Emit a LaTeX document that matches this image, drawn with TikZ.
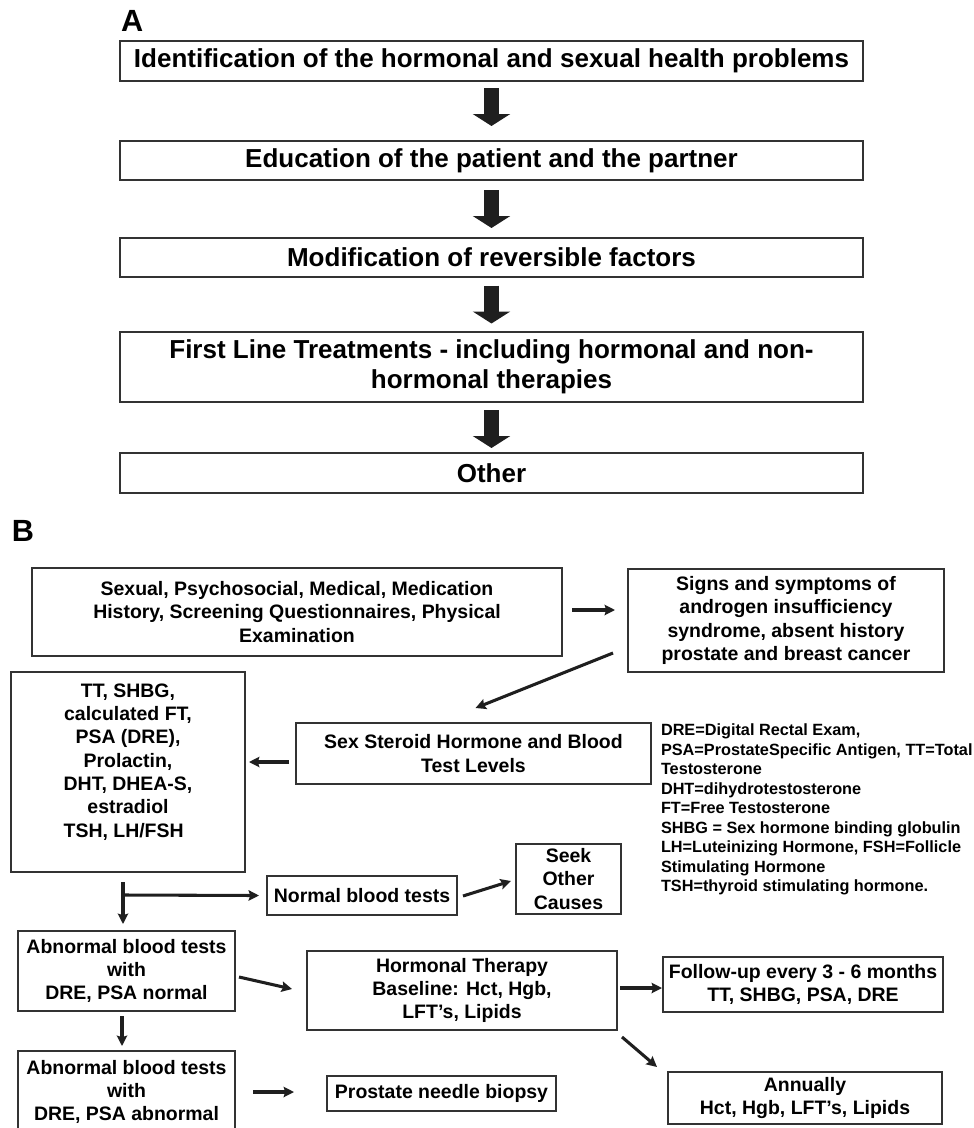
\documentclass[tikz,border=0pt]{standalone}
\usepackage{fontspec}
\setmainfont{Liberation Sans}
\usetikzlibrary{arrows.meta,calc}
\tikzset{
  every node/.style={inner sep=0pt, outer sep=0pt, text=black},
  sz/.style 2 args={minimum width=#1*0.75pt, minimum height=#2*0.75pt},
  boxa/.style={draw=black!80, line width=1.4pt, anchor=north west, align=center,
    font=\fontsize{19.5}{22.5}\selectfont\bfseries},
  boxb/.style={draw=black!80, line width=1.3pt, anchor=north west, align=center,
    font=\fontsize{14.6}{17.5}\selectfont\bfseries},
  legend/.style={anchor=north west, align=left,
    font=\fontsize{12.2}{14.6}\selectfont\bfseries},
  panel/.style={anchor=base west, font=\fontsize{23}{23}\selectfont\bfseries},
  blockarr/.style={draw=black!88, line width=11.25pt, -{Triangle[length=9pt,width=27.75pt]}},
  conn/.style={draw=black!88, line width=2.3pt, -{Stealth[length=7.8pt,width=7.8pt,inset=1.2pt]}},
}
\begin{document}
\begin{tikzpicture}[x=0.75pt,y=-0.75pt]
\useasboundingbox (0,0) rectangle (974,1128);

% ---------- Panel A ----------
\node[panel] (la) at (121,31) {A};
\node[boxa,sz={743}{40}] (a1) at (120,41) {Identification of the hormonal and sexual health problems};
\node[boxa,sz={743}{39}] (a2) at (120,141) {Education of the patient and the partner};
\node[boxa,sz={743}{39}] (a3) at (120,238) {Modification of reversible factors};
\node[boxa,sz={743}{70}] (a4) at (120,332) {First Line Treatments - including hormonal and non-\\hormonal therapies};
\node[boxa,sz={743}{40}] (a5) at (120,453) {Other};

\draw[blockarr] ($(a1.south)+(0,7)$) -- ($(a1.south)+(0,45)$);
\draw[blockarr] ($(a2.south)!.5!(a3.north)+(0,-19)$) -- ($(a2.south)!.5!(a3.north)+(0,19)$);
\draw[blockarr] ($(a3.south)!.5!(a4.north)+(0,-19)$) -- ($(a3.south)!.5!(a4.north)+(0,19)$);
\draw[blockarr] ($(a5.north)+(0,-43)$) -- ($(a5.north)+(0,-5)$);

% ---------- Panel B ----------
\node[panel] (lb) at (12,541) {B};

\node[boxb,sz={530}{88}] (hist) at (32,568) {Sexual, Psychosocial, Medical, Medication\\History, Screening Questionnaires, Physical\\Examination};
\node[boxb,sz={316}{103}] (signs) at (628,569) {Signs and symptoms of\\androgen insufficiency\\syndrome, absent history\\prostate and breast cancer};
\node[boxb,sz={234}{200}] (tt) at (11,672) {TT, SHBG,\\calculated FT,\\PSA (DRE),\\Prolactin,\\DHT, DHEA-S,\\estradiol\\\rlap{TSH, LH/FSH}\phantom{DHT, DHEA-S,}\\\mbox{}};
\node[boxb,sz={355}{61}] (sex) at (296,723) {Sex Steroid Hormone and Blood\\Test Levels};
\node[legend] (leg) at (661,724) {DRE=Digital Rectal Exam,\\PSA=ProstateSpecific Antigen, TT=Total\\Testosterone\\DHT=dihydrotestosterone\\FT=Free Testosterone\\SHBG = Sex hormone binding globulin\\LH=Luteinizing Hormone, FSH=Follicle\\Stimulating Hormone\\TSH=thyroid stimulating hormone.};
\node[boxb,sz={190}{39}] (normal) at (267,876) {Normal blood tests};
\node[boxb,sz={105}{70}] (seek) at (516,844) {Seek\\Other\\Causes};
\node[boxb,sz={217}{80}] (abn1) at (18,931) {Abnormal blood tests\\with\\DRE, PSA normal};
\node[boxb,sz={217}{82}] (abn2) at (18,1051) {Abnormal blood tests\\with\\DRE, PSA abnormal};
\node[boxb,sz={310}{79}] (horm) at (307,951) {Hormonal Therapy\\Baseline: Hct, Hgb,\\LFT’s, Lipids};
\node[boxb,sz={280}{55}] (follow) at (663,957) {Follow-up every 3 - 6 months\\TT, SHBG, PSA, DRE};
\node[boxb,sz={274}{52}] (annual) at (668,1072) {Annually\\Hct, Hgb, LFT’s, Lipids};
\node[boxb,sz={229}{35}] (biopsy) at (327,1076) {Prostate needle biopsy};

\draw[conn] ([shift={(10,-2)}]hist.east) -- ([shift={(-13,-10.5)}]signs.west);
\draw[conn] ([shift={(-15,-19)}]signs.south west) -- ([shift={(2,-15)}]sex.north);
\draw[conn] ([shift={(-7,8.5)}]sex.west) -- ([shift={(4,-10)}]tt.east);
\draw[conn] ([shift={(-5,10)}]tt.south) -- ([shift={(-3.5,-7)}]abn1.north);
\draw[conn] ([shift={(-5,23)}]tt.south) -- ([shift={(-8,0)}]normal.west);
\draw[conn] ([shift={(6,0.5)}]normal.east) -- ([shift={(-5,2)}]seek.west);
\draw[conn] ([shift={(-4.5,5)}]abn1.south) -- ([shift={(-4.5,-5)}]abn2.north);
\draw[conn] ([shift={(4,6)}]abn1.east) -- ([shift={(-15,-1.5)}]horm.west);
\draw[conn] ([shift={(3,-2.5)}]horm.east) -- ([shift={(-1,3.5)}]follow.west);
\draw[conn] ([shift={(5,7)}]horm.south east) -- ([shift={(-11,-5)}]annual.north west);
\draw[conn] ([shift={(18,0)}]abn2.east) -- ([shift={(-33,-1.5)}]biopsy.west);
\end{tikzpicture}
\end{document}
